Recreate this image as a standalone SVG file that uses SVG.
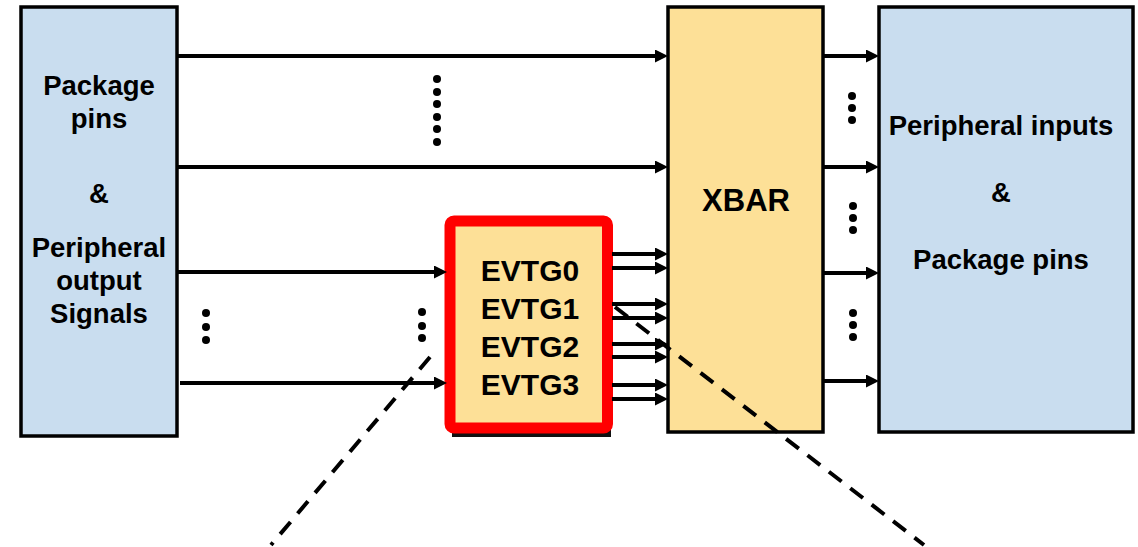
<svg xmlns="http://www.w3.org/2000/svg" width="1138" height="547" viewBox="0 0 1138 547">
<style>
.box{stroke:#000;stroke-width:3.5}
.blue{fill:#c9ddef}
.yel{fill:#fde097}
.t{font-family:"Liberation Sans",Arial,sans-serif;font-weight:bold;fill:#000;text-anchor:middle}
.w{stroke:#000;stroke-width:4;fill:none}
.d{stroke:#000;stroke-width:4;fill:none;stroke-dasharray:16 11}
</style>
<defs>
<marker id="ah" viewBox="0 0 13 13" refX="7" refY="6.5" markerWidth="13" markerHeight="13" markerUnits="userSpaceOnUse" orient="auto">
<path d="M0,0 L13,6.5 L0,13 z" fill="#000"/>
</marker>
</defs>
<g id="src">
<rect class="box blue" x="21" y="7" width="156" height="429"/>
<text class="t" font-size="27.5" x="99" y="95">Package</text>
<text class="t" font-size="27.5" x="99" y="128">pins</text>
<text class="t" font-size="27.5" x="99" y="203">&amp;</text>
<text class="t" font-size="27.5" x="99" y="257">Peripheral</text>
<text class="t" font-size="27.5" x="99" y="290">output</text>
<text class="t" font-size="27.5" x="99" y="323">Signals</text>
</g>
<g id="xbar">
<rect class="box yel" x="668" y="7" width="155" height="425"/>
<text class="t" font-size="31" x="746" y="211">XBAR</text>
</g>
<g id="dst">
<rect class="box blue" x="879" y="7" width="254" height="425"/>
<text class="t" font-size="27.5" x="1001" y="135">Peripheral inputs</text>
<text class="t" font-size="27.5" x="1001" y="202">&amp;</text>
<text class="t" font-size="27.5" x="1001" y="269">Package pins</text>
</g>
<g id="evtg">
<rect x="452" y="400" width="159" height="37" fill="#111"/>
<rect x="450" y="221" width="157.5" height="207" rx="4" fill="#fde097" stroke="#ff0000" stroke-width="11"/>
<text class="t" font-size="30" x="530" y="281">EVTG0</text>
<text class="t" font-size="30" x="530" y="319">EVTG1</text>
<text class="t" font-size="30" x="530" y="357">EVTG2</text>
<text class="t" font-size="30" x="530" y="395">EVTG3</text>
</g>
<g id="connectors">
<line class="w" x1="177" y1="56" x2="662" y2="56" marker-end="url(#ah)"/>
<line class="w" x1="177" y1="167" x2="662" y2="167" marker-end="url(#ah)"/>
<line class="w" x1="177" y1="272" x2="441" y2="272" marker-end="url(#ah)"/>
<line class="w" x1="180" y1="383" x2="441" y2="383" marker-end="url(#ah)"/>
<line class="w" x1="612" y1="254" x2="662" y2="254" marker-end="url(#ah)"/>
<line class="w" x1="612" y1="268" x2="662" y2="268" marker-end="url(#ah)"/>
<line class="w" x1="612" y1="304" x2="662" y2="304" marker-end="url(#ah)"/>
<line class="w" x1="612" y1="318" x2="662" y2="318" marker-end="url(#ah)"/>
<line class="w" x1="612" y1="344" x2="662" y2="344" marker-end="url(#ah)"/>
<line class="w" x1="612" y1="357" x2="662" y2="357" marker-end="url(#ah)"/>
<line class="w" x1="612" y1="385" x2="662" y2="385" marker-end="url(#ah)"/>
<line class="w" x1="612" y1="399" x2="662" y2="399" marker-end="url(#ah)"/>
<line class="w" x1="823" y1="56" x2="873" y2="56" marker-end="url(#ah)"/>
<line class="w" x1="823" y1="167" x2="873" y2="167" marker-end="url(#ah)"/>
<line class="w" x1="823" y1="273" x2="873" y2="273" marker-end="url(#ah)"/>
<line class="w" x1="823" y1="381" x2="873" y2="381" marker-end="url(#ah)"/>
<line class="d" x1="430" y1="357" x2="271" y2="545"/>
<line class="d" x1="615" y1="307" x2="924" y2="545"/>
</g>
<g id="dots" fill="#000">
<circle cx="437" cy="79" r="4"/><circle cx="437" cy="92" r="4"/><circle cx="437" cy="104" r="4"/>
<circle cx="437" cy="117" r="4"/><circle cx="437" cy="129" r="4"/><circle cx="437" cy="142" r="4"/>
<circle cx="206" cy="313" r="4"/><circle cx="206" cy="327" r="4"/><circle cx="206" cy="340" r="4"/>
<circle cx="422" cy="312" r="4"/><circle cx="422" cy="326" r="4"/><circle cx="422" cy="338" r="4"/>
<circle cx="852" cy="96" r="4"/><circle cx="852" cy="108" r="4"/><circle cx="852" cy="120" r="4"/>
<circle cx="853" cy="206" r="4"/><circle cx="853" cy="218" r="4"/><circle cx="853" cy="230" r="4"/>
<circle cx="853" cy="313" r="4"/><circle cx="853" cy="325" r="4"/><circle cx="853" cy="337" r="4"/>
</g>
</svg>
